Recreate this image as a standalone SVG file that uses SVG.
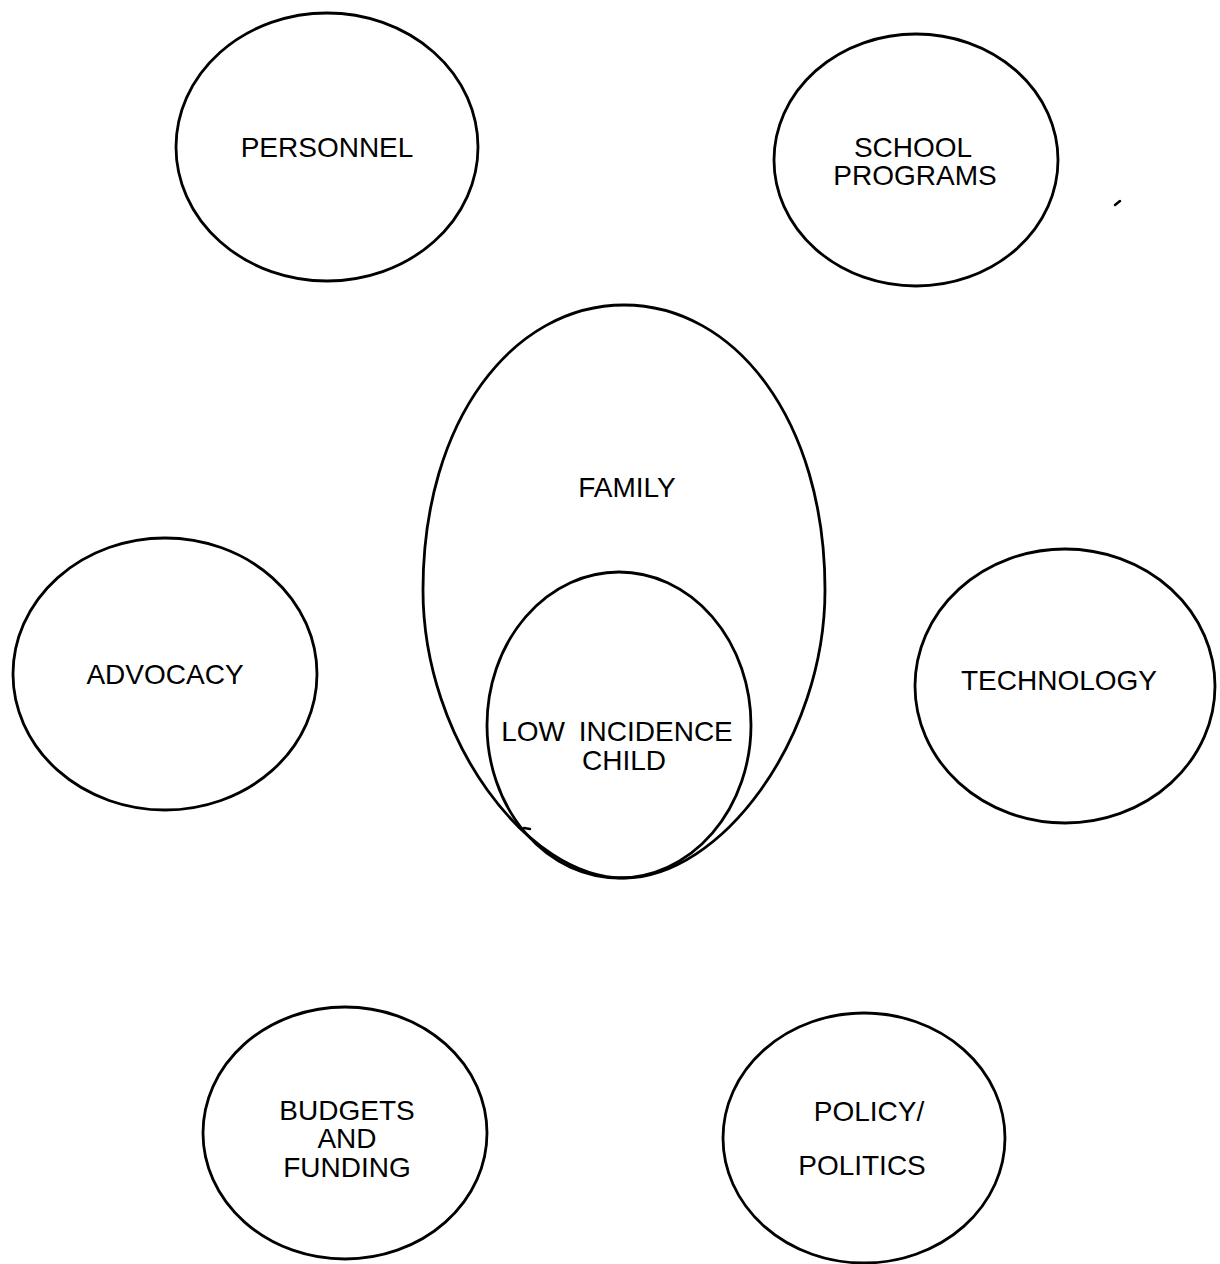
<svg xmlns="http://www.w3.org/2000/svg" width="1220" height="1264" viewBox="0 0 1220 1264">
<style>
.n{fill:none;stroke:#000;stroke-width:2.8}
.t{font-family:"Liberation Sans",Arial,sans-serif;font-size:28px;fill:#000;text-anchor:middle}
.a{fill:none;stroke:#000;stroke-width:2.5;stroke-linecap:round}
</style>
<rect width="1220" height="1264" fill="#fff"/>
<g id="personnel"><ellipse class="n" cx="327" cy="147" rx="151" ry="134"/><text class="t" x="327" y="157">PERSONNEL</text></g>
<g id="school-programs"><ellipse class="n" cx="916" cy="160" rx="142" ry="126"/><text class="t" x="913" y="157">SCHOOL</text><text class="t" x="915" y="185">PROGRAMS</text></g>
<g id="family"><path class="n" d="M624,305 C735,305 825,420 825,590 C825,740 720,878 624,878 C528,878 423,740 423,590 C423,420 513,305 624,305 Z"/><text class="t" x="627" y="497">FAMILY</text></g>
<g id="low-incidence-child"><ellipse class="n" cx="619" cy="725" rx="132" ry="153"/><text class="t" x="617" y="741" word-spacing="6">LOW INCIDENCE</text><text class="t" x="624" y="770">CHILD</text></g>
<g id="advocacy"><ellipse class="n" cx="165" cy="674" rx="152" ry="136"/><text class="t" x="165" y="684">ADVOCACY</text></g>
<g id="technology"><ellipse class="n" cx="1065" cy="686" rx="150" ry="137"/><text class="t" x="1059" y="690">TECHNOLOGY</text></g>
<g id="budgets-and-funding"><ellipse class="n" cx="345" cy="1133" rx="142" ry="126"/><text class="t" x="347" y="1120">BUDGETS</text><text class="t" x="347" y="1148">AND</text><text class="t" x="347" y="1177">FUNDING</text></g>
<g id="policy-politics"><ellipse class="n" cx="864" cy="1138" rx="141" ry="125"/><text class="t" x="869" y="1121">POLICY/</text><text class="t" x="862" y="1175">POLITICS</text></g>
<g id="connectors"/>
<g id="specks"><line class="a" x1="1115" y1="205" x2="1120" y2="201"/><line class="a" x1="524" y1="828" x2="530" y2="829"/></g>
</svg>
